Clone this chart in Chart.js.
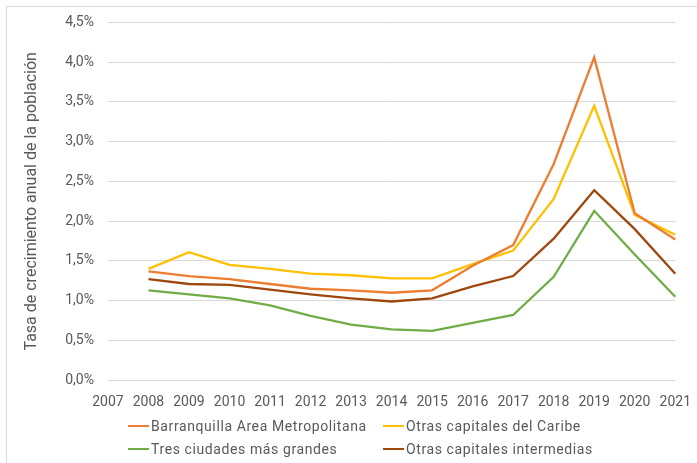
<!DOCTYPE html>
<html>
<head>
<meta charset="utf-8">
<script src="https://cdn.jsdelivr.net/npm/chart.js@4.4.1/dist/chart.umd.min.js"></script>
<style>
  body { margin: 0; background: #fff; font-family: Roboto, "Open Sans", sans-serif; overflow: hidden; }
  #frame { position: absolute; left: 6px; top: 6px; width: 700px; height: 470px;
           border-left: 1px solid #d9d9d9; border-top: 1px solid #d9d9d9; }
  #wrap { position: absolute; left: 0; top: 0; width: 697px; height: 420px; }
  #legend { position: absolute; left: 128px; top: 417px; display: grid;
            grid-template-columns: 255px 260px; row-gap: 5px; color: #595959;
            font-size: 14px; letter-spacing: 0.6px; }
  #legend div { display: flex; align-items: center; height: 18px; white-space: nowrap; }
  #legend span.sw { display: inline-block; width: 21px; height: 2px; margin-right: 2px; }
</style>
</head>
<body>
<div id="frame"></div>
<div id="wrap"><canvas id="growthChart"></canvas></div>
<div id="legend"></div>
<script>
const years = ['2007','2008','2009','2010','2011','2012','2013','2014','2015','2016','2017','2018','2019','2020','2021'];

const barranquilla = [null, 1.37, 1.31, 1.27, 1.21, 1.15, 1.13, 1.10, 1.13, 1.44, 1.70, 2.72, 4.06, 2.10, 1.77];
const caribe       = [null, 1.40, 1.61, 1.45, 1.40, 1.34, 1.32, 1.28, 1.28, 1.46, 1.63, 2.28, 3.45, 2.08, 1.83];
const tresCiudades = [null, 1.13, 1.08, 1.03, 0.94, 0.81, 0.70, 0.64, 0.62, 0.72, 0.82, 1.30, 2.13, 1.58, 1.05];
const intermedias  = [null, 1.27, 1.21, 1.20, 1.14, 1.08, 1.03, 0.99, 1.03, 1.18, 1.31, 1.78, 2.39, 1.90, 1.34];

const seriesNames = ['Barranquilla Area Metropolitana', 'Otras capitales del Caribe',
                     'Tres ciudades más grandes', 'Otras capitales intermedias'];
const seriesColors = ['#ED7D31', '#FFC000', '#70AD47', '#9E480E'];
const seriesData = [barranquilla, caribe, tresCiudades, intermedias];

function makeDataset(i) {
    return {
        label: seriesNames[i],
        data: seriesData[i],
        borderColor: seriesColors[i],
        backgroundColor: seriesColors[i],
        borderWidth: 2.3,
        pointRadius: 0,
        tension: 0,
        spanGaps: false
    };
}

Chart.defaults.font.family = 'Roboto, "Open Sans", sans-serif';
Chart.defaults.color = '#595959';

const ctx = document.getElementById('growthChart').getContext('2d');
const chart = new Chart(ctx, {
    type: 'line',
    data: {
        labels: years,
        datasets: seriesData.map((d, i) => makeDataset(i))
    },
    options: {
        responsive: true,
        maintainAspectRatio: false,
        animation: false,
        layout: { padding: { left: 22, top: 13, right: 0, bottom: 3 } },
        plugins: {
            legend: { display: false },
            tooltip: { enabled: false }
        },
        scales: {
            x: {
                grid: { display: false },
                border: { display: false },
                ticks: { font: { size: 14 }, padding: 6, maxRotation: 0, autoSkip: false }
            },
            y: {
                min: 0,
                max: 4.5,
                grid: { color: '#d9d9d9', lineWidth: 1, drawTicks: false },
                border: { display: false },
                ticks: {
                    stepSize: 0.5,
                    padding: 14,
                    font: { size: 14 },
                    callback: v => v.toFixed(1).replace('.', ',') + '%'
                },
                title: {
                    display: true,
                    text: 'Tasa de crecimiento anual de la población',
                    font: { size: 16 },
                    padding: { top: 0, bottom: 10 }
                }
            }
        }
    }
});

// legend in two columns, like the original
const legendBox = document.getElementById('legend');
chart.data.datasets.forEach(ds => {
    const item = document.createElement('div');
    const sw = document.createElement('span');
    sw.className = 'sw';
    sw.style.background = ds.borderColor;
    item.appendChild(sw);
    item.appendChild(document.createTextNode(ds.label));
    legendBox.appendChild(item);
});
</script>
</body>
</html>
